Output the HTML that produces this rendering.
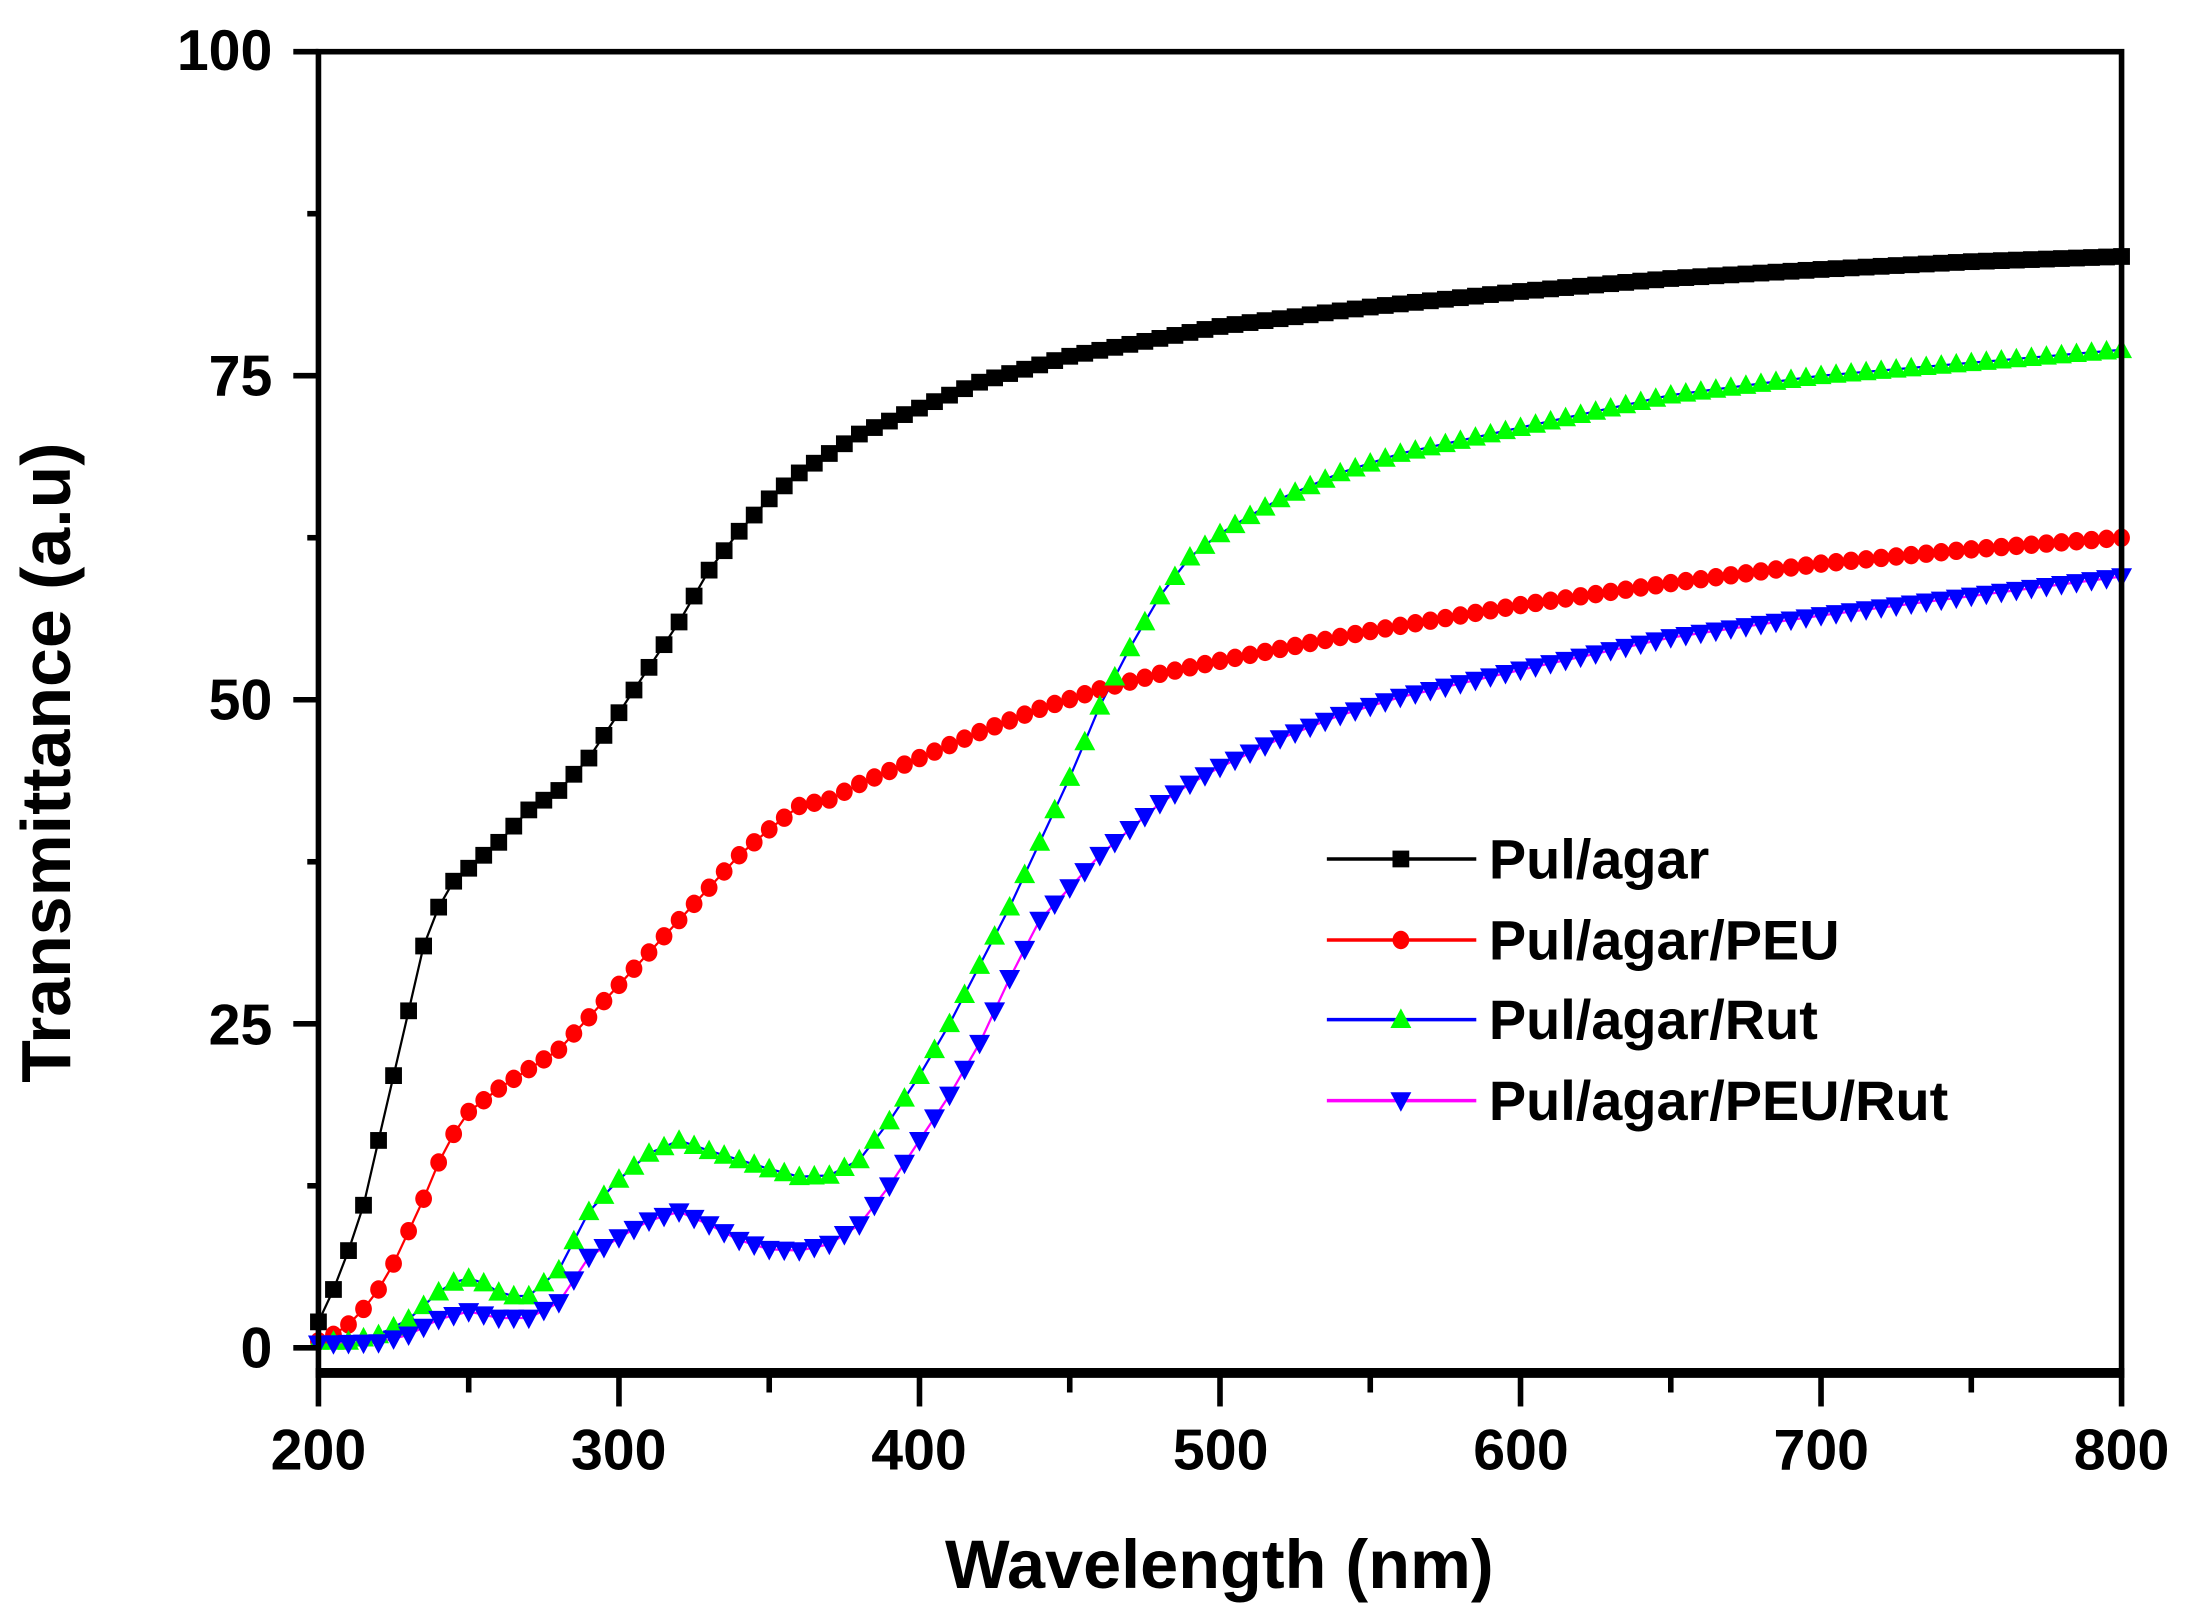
<!DOCTYPE html>
<html><head><meta charset="utf-8"><style>html,body{margin:0;padding:0;background:#fff}svg{display:block}</style></head>
<body>
<svg id="s" width="2190" height="1615" viewBox="0 0 1568 1156.3" xmlns="http://www.w3.org/2000/svg" font-family="Liberation Sans, Arial, sans-serif" font-weight="bold">
<rect x="0" y="0" width="1568" height="1157" fill="#fff"/>
<g id="data"></g>
<g stroke="#000" fill="none">
<rect x="228" y="37" width="1291" height="946" stroke-width="4"/>
<line x1="226" y1="983" x2="1521" y2="983" stroke-width="7"/>
</g>
<g id="ticks" stroke="#000" stroke-width="4"></g>
<g font-size="41" fill="#000" text-anchor="end">
<text x="195" y="50">100</text>
<text x="195" y="283">75</text>
<text x="195" y="515">50</text>
<text x="195" y="748">25</text>
<text x="195" y="979">0</text>
</g>
<g font-size="41" fill="#000" text-anchor="middle">
<text x="228" y="1052">200</text>
<text x="443" y="1052">300</text>
<text x="658" y="1052">400</text>
<text x="874" y="1052">500</text>
<text x="1089" y="1052">600</text>
<text x="1304" y="1052">700</text>
<text x="1519" y="1052">800</text>
</g>
<text x="873" y="1137" font-size="49" text-anchor="middle">Wavelength (nm)</text>
<text transform="translate(50,546) rotate(-90)" font-size="50" text-anchor="middle">Transmittance (a.u)</text>
<g id="legend" font-size="40" fill="#000">
<text x="1066" y="629">Pul/agar</text>
<text x="1066" y="687">Pul/agar/PEU</text>
<text x="1066" y="744">Pul/agar/Rut</text>
<text x="1066" y="802">Pul/agar/PEU/Rut</text>
</g>
</svg>
<script>
var NS="http://www.w3.org/2000/svg";
function X(w){return 228+(w-200)*1291/600;}
function Y(v){return 965-v*9.28;}
function el(t,a,p){var e=document.createElementNS(NS,t);for(var k in a)e.setAttribute(k,a[k]);p.appendChild(e);return e;}
var tk=document.getElementById('ticks');
for(var i=0;i<=8;i++){var v=i*12.5,y=Y(v),len=(i%2==0)?18:8;el('line',{x1:228-len,y1:y,x2:228,y2:y},tk);}
for(var w=200;w<=800;w+=50){var x=X(w),len=(w%100==0)?22:12;el('line',{x1:x,y1:985,x2:x,y2:985+len},tk);}
function interp(k,w){for(var i=0;i<k.length-1;i++){if(w>=k[i][0]&&w<=k[i+1][0]){var t=(w-k[i][0])/(k[i+1][0]-k[i][0]);return k[i][1]+t*(k[i+1][1]-k[i][1]);}}return k[k.length-1][1];}
var S=[
{c:'#000',lc:'#000',m:'sq',k:[[200,2],[205,4.5],[210,7.5],[215,11],[220,16],[225,21],[230,26],[235,31],[240,34],[245,36],[250,37],[260,39],[270,41.5],[280,43],[290,45.5],[300,49],[310,52.5],[320,56],[330,60],[340,63],[350,65.5],[360,67.5],[370,69],[380,70.5],[400,72.5],[420,74.5],[450,76.5],[500,78.8],[550,80.3],[600,81.5],[650,82.5],[700,83.2],[750,83.8],[800,84.2]]},
{c:'#f00',lc:'#f00',m:'ci',k:[[200,0.5],[205,1],[210,1.8],[215,3],[220,4.5],[225,6.5],[230,9],[235,11.5],[240,14.3],[245,16.5],[250,18.2],[260,20],[270,21.5],[280,23],[290,25.5],[300,28],[310,30.5],[320,33],[330,35.5],[340,38],[350,40],[360,41.8],[370,42.3],[380,43.5],[400,45.5],[420,47.5],[440,49.3],[460,50.8],[480,52],[500,53],[550,55.3],[600,57.3],[650,59],[700,60.5],[750,61.6],[800,62.5]]},
{c:'#0f0',lc:'#00f',m:'tu',k:[[200,0.5],[210,0.5],[220,1],[230,2.2],[240,4.3],[248,5.5],[255,5],[262,4],[270,4],[280,6],[290,10.5],[300,13],[310,15],[320,16],[330,15.2],[340,14.5],[350,13.8],[360,13.2],[370,13.3],[380,14.5],[390,17.5],[400,21],[410,25],[420,29.5],[430,34],[440,39],[450,44],[460,49.5],[470,54],[480,58],[490,61],[500,62.8],[510,64.2],[520,65.5],[540,67.5],[560,69],[600,71],[650,73.5],[700,75],[750,76],[800,77]]},
{c:'#00f',lc:'#f0f',m:'td',k:[[200,0.3],[220,0.4],[230,1],[240,2.2],[250,2.8],[260,2.3],[270,2.3],[280,3.5],[290,7],[300,8.5],[310,9.8],[320,10.5],[330,9.5],[340,8.3],[350,7.6],[360,7.5],[370,8],[380,9.5],[390,12.5],[400,16],[410,19.5],[420,23.5],[430,28.5],[440,33],[450,35.5],[460,38],[470,40],[480,42],[490,43.5],[500,44.8],[520,47],[540,48.8],[560,50.2],[600,52.3],[650,54.8],[700,56.5],[750,58],[800,59.5]]}
];
function marker(m,x,y,c,p){
 if(m=='sq')el('rect',{x:x-6,y:y-6,width:12,height:12,fill:c},p);
 else if(m=='ci')el('ellipse',{cx:x,cy:y,rx:6,ry:6.6,fill:c},p);
 else if(m=='tu')el('polygon',{points:(x-7.5)+','+(y+6)+' '+(x+7.5)+','+(y+6)+' '+x+','+(y-8),fill:c},p);
 else el('polygon',{points:(x-7.5)+','+(y-6)+' '+(x+7.5)+','+(y-6)+' '+x+','+(y+8),fill:c},p);
}
var D=document.getElementById('data');
S.forEach(function(s){var pts=[];for(var w=200;w<=800;w+=5)pts.push(X(w).toFixed(1)+','+Y(interp(s.k,w)).toFixed(1));
 el('polyline',{points:pts.join(' '),fill:'none',stroke:s.lc,'stroke-width':1.6},D);});
S.forEach(function(s){for(var w=200;w<=800;w+=5)marker(s.m,X(w),Y(interp(s.k,w)),s.c,D);});
var L=document.getElementById('legend');var ly=[615,673,730,788];
S.forEach(function(s,i){el('line',{x1:950,y1:ly[i],x2:1057,y2:ly[i],stroke:s.lc,'stroke-width':2.5},L);marker(s.m,1003,ly[i],s.c,L);});
</script>
</body></html>
